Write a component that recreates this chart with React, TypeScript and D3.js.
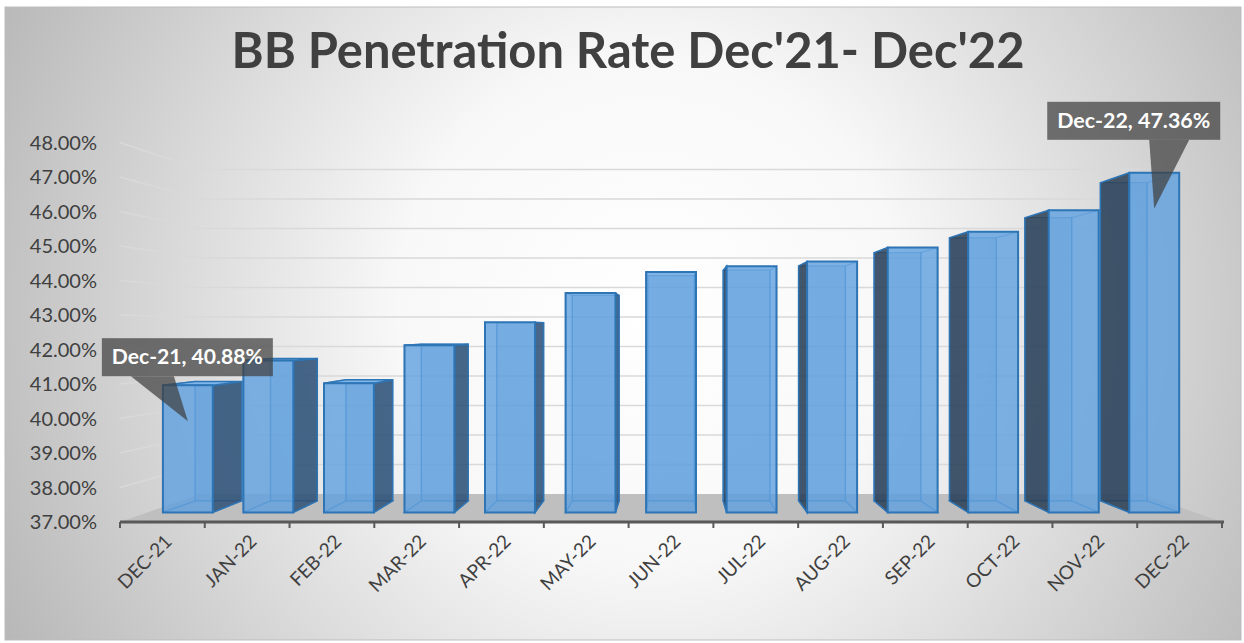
import React from "react";
import * as d3 from "d3";

// chart data
const categories = ["DEC-21", "JAN-22", "FEB-22", "MAR-22", "APR-22", "MAY-22", "JUN-22", "JUL-22", "AUG-22", "SEP-22", "OCT-22", "NOV-22", "DEC-22"];
const values = [40.88, 41.63, 40.94, 42.1, 42.8, 43.69, 44.33, 44.51, 44.65, 45.08, 45.56, 46.22, 47.36];
const yTicks = [37, 38, 39, 40, 41, 42, 43, 44, 45, 46, 47, 48];
const calloutIndex = [0, 12];
const calloutNames = ["Dec-21", "Dec-22"];

const W = 1244, H = 643;
// perspective: vanishing point and depth scale of each plane
const VX = 672, VY = 329;
const S_FRONT = 0.95, S_BACK = 0.89, S_WALL = 0.855;
const FONT = "Lato, 'Open Sans', sans-serif";

type P = [number, number];

export default function App() {
  const x = d3.scaleBand<string>().domain(categories).range([120, 1222]).paddingInner(0.38).paddingOuter(0.19);
  const band = d3.scaleBand<string>().domain(categories).range([120, 1222]);
  const y = d3.scaleLinear().domain([37, 48]).range([522, 142.5]);

  const proj = (X: number, Y: number, s: number): P => [VX + (X - VX) * s, VY + (Y - VY) * s];
  const pts = (arr: P[]) => arr.map(p => p[0].toFixed(1) + "," + p[1].toFixed(1)).join(" ");

  const base = y(37);
  const left = band.range()[0], right = band.range()[1];

  // outer bars first, centre bars last
  const order = categories.map((c, i) => i).sort((a, b) => {
    const da = Math.abs(x(categories[a])! + x.bandwidth() / 2 - VX);
    const db = Math.abs(x(categories[b])! + x.bandwidth() / 2 - VX);
    return db - da;
  });

  const bars = order.map(i => {
    const c = categories[i];
    const x0 = x(c)!, x1 = x0 + x.bandwidth();
    const yt = y(values[i]);
    const fLT = proj(x0, yt, S_FRONT), fRT = proj(x1, yt, S_FRONT), fRB = proj(x1, base, S_FRONT), fLB = proj(x0, base, S_FRONT);
    const bLT = proj(x0, yt, S_BACK), bRT = proj(x1, yt, S_BACK), bRB = proj(x1, base, S_BACK), bLB = proj(x0, base, S_BACK);
    const leftOfCentre = x0 + x.bandwidth() / 2 < VX;
    const side = leftOfCentre ? [fRT, bRT, bRB, fRB] : [fLT, bLT, bLB, fLB];
    const hidden = leftOfCentre ? [fLT, bLT, bLB, fLB] : [fRT, bRT, bRB, fRB];
    const topVisible = fLT[1] > VY;
    return (
      <g key={c}>
        <polygon points={pts([bLT, bRT, bRB, bLB])} fill="#5b9bd5" fillOpacity={0.3} stroke="#2e75b6" strokeOpacity={0.6} strokeWidth={1.3} />
        <polygon points={pts(hidden)} fill="none" stroke="#2e75b6" strokeOpacity={0.55} strokeWidth={1.3} />
        <polygon points={pts([fLB, fRB, bRB, bLB])} fill="none" stroke="#2e75b6" strokeOpacity={0.55} strokeWidth={1.3} />
        <polygon points={pts(side)} fill={leftOfCentre ? "#2a4c72" : "#23384f"} fillOpacity={0.82} stroke="#2e75b6" strokeWidth={1.5} />
        {topVisible && <polygon points={pts([fLT, fRT, bRT, bLT])} fill="#7fb6ea" stroke="#2e75b6" strokeWidth={1.5} />}
        <polygon points={pts([fLT, fRT, fRB, fLB])} fill="#5fa0de" fillOpacity={0.8} stroke="#2e75b6" strokeWidth={2} />
      </g>
    );
  });

  const callouts = calloutIndex.map((i, k) => {
    const c = categories[i];
    const cx = proj(x(c)! + x.bandwidth() / 2, y(values[i]), S_FRONT);
    const tip: P = [cx[0], cx[1] + 36];
    const label = `${calloutNames[k]}, ${values[i].toFixed(2)}%`;
    // box placement relative to tip
    const box = k === 0 ? { x: tip[0] - 86, y: tip[1] - 83, w: 171, h: 38, b0: tip[0] - 57, b1: tip[0] - 14 }
                        : { x: tip[0] - 107, y: tip[1] - 107, w: 173, h: 38, b0: tip[0] - 5, b1: tip[0] + 35 };
    return (
      <g key={c}>
        <polygon points={pts([[box.b0, box.y + box.h], [box.b1, box.y + box.h], tip])} fill="#404040" fillOpacity={0.72} />
        <rect x={box.x} y={box.y} width={box.w} height={box.h} fill="#404040" fillOpacity={0.72} />
        <text x={box.x + box.w / 2} y={box.y + box.h / 2} dy="0.36em" textAnchor="middle" fill="#fff"
          fontFamily={FONT} fontWeight={700} fontSize={20} textLength={box.w - 20} lengthAdjust="spacingAndGlyphs">{label}</text>
      </g>
    );
  });

  return (
    <div style={{ position: "absolute", left: 0, top: 0 }}>
      <svg width={W} height={H} style={{ display: "block" }}>
        <defs>
          <radialGradient id="bg" gradientUnits="userSpaceOnUse" cx={650} cy={310} r={720}>
            <stop offset="0" stopColor="#ffffff" />
            <stop offset="0.35" stopColor="#f8f8f8" />
            <stop offset="1" stopColor="#b8b8b8" />
          </radialGradient>
        </defs>
        <rect x={0} y={0} width={W} height={H} fill="#fff" />
        <rect x={5} y={7} width={1236} height={633} fill="url(#bg)" stroke="#bdbdbd" strokeWidth={1} />

        <text x={628} y={68} textAnchor="middle" fill="#404040" fontFamily={FONT} fontWeight={700}
          fontSize={50} textLength={793} lengthAdjust="spacingAndGlyphs">BB Penetration Rate Dec'21- Dec'22</text>

        {/* gridlines: left wall and back wall */}
        {yTicks.filter(t => t > 37).map(t => {
          const a: P = [left, y(t)];
          const b = proj(left, y(t), S_WALL);
          const e = proj(right, y(t), S_WALL);
          return <polyline key={t} points={pts([a, b, e])} fill="none" stroke="#d9d9d9" strokeWidth={1.5} />;
        })}

        {/* floor */}
        <polygon points={pts([[left, base], [right, base], proj(right, base, S_WALL), proj(left, base, S_WALL)])} fill="#bfbfbf" />

        {bars}

        {/* axis */}
        <line x1={left} x2={right + 2} y1={base} y2={base} stroke="#595959" strokeWidth={3} />
        {[...categories.map(c => band(c)!), right].map((t, i) => (
          <line key={i} x1={t} x2={t} y1={base} y2={base + 6} stroke="#595959" strokeWidth={2} />
        ))}

        {yTicks.map(t => (
          <text key={t} x={97} y={y(t)} dy="0.35em" textAnchor="end" fill="#404040" fontFamily={FONT} fontSize={20}>
            {t.toFixed(2)}%
          </text>
        ))}

        {categories.map(c => {
          const cx = band(c)! + band.bandwidth() / 2 + 6;
          return (
            <text key={c} transform={`translate(${cx},${base + 16}) rotate(-45)`} textAnchor="end" dy="0.35em"
              fill="#404040" fontFamily={FONT} fontSize={19}>{c}</text>
          );
        })}

        {callouts}
      </svg>
    </div>
  );
}
